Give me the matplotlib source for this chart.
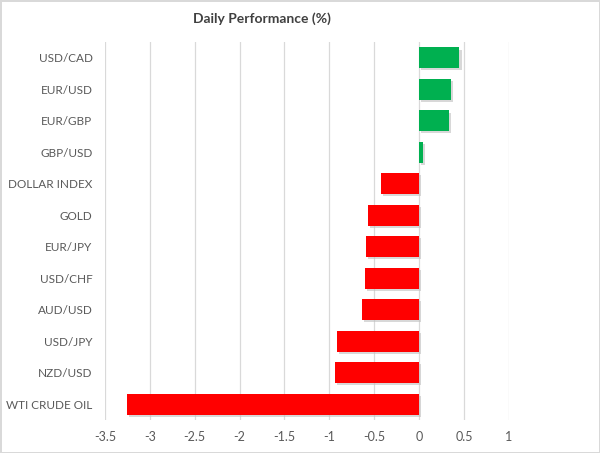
import matplotlib.pyplot as plt
import matplotlib.patheffects as pe
import numpy as np

labels = ["USD/CAD", "EUR/USD", "EUR/GBP", "GBP/USD", "DOLLAR INDEX", "GOLD",
          "EUR/JPY", "USD/CHF", "AUD/USD", "USD/JPY", "NZD/USD", "WTI CRUDE OIL"]
values = [0.45, 0.36, 0.33, 0.045, -0.42, -0.57, -0.59, -0.60, -0.64, -0.92, -0.935, -3.26]
xticks = [-3.5, -3, -2.5, -2, -1.5, -1, -0.5, 0, 0.5, 1]

plt.rcParams['font.family'] = ['Lato', 'DejaVu Sans']

fig = plt.figure(figsize=(6, 4.53), dpi=100, edgecolor='#d9d9d9', linewidth=2)
ax = fig.add_axes([0.175, 0.073, 0.673, 0.834])

colors = ['#00B050' if v >= 0 else '#FF0000' for v in values]
y = np.arange(len(labels))
bars = ax.barh(y, values, height=0.66, color=colors, zorder=3)
for b in bars:
	b.set_path_effects([pe.SimplePatchShadow(offset=(1.5, -1.5), shadow_rgbFace='#bfbfbf', alpha=0.6), pe.Normal()])

ax.set_xlim(-3.5, 1)
ax.set_ylim(len(labels) - 0.5, -0.5)
ax.set_xticks(xticks)
ax.set_xticklabels([("%g" % t) for t in xticks])
ax.set_yticks(y)
ax.set_yticklabels(labels)
ax.tick_params(axis='both', length=0, colors='#595959')
ax.tick_params(axis='y', labelsize=8.5, pad=9)
ax.tick_params(axis='x', labelsize=9, pad=8)
ax.grid(axis='x', color='#d9d9d9', linewidth=0.9, zorder=0)
for s in ax.spines.values():
	s.set_visible(False)

fig.text(262 / 600, 1 - 19 / 453, "Daily Performance (%)", ha='center', va='center',
         fontsize=10, fontweight='bold', color='#404040')

fig.savefig("out.png", dpi=100)
